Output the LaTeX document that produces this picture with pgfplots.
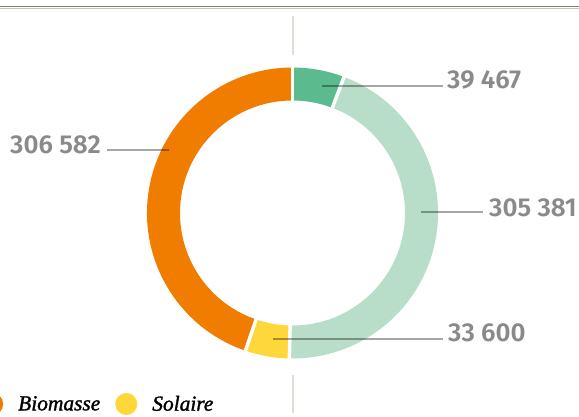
\documentclass[border=0pt]{standalone}
\usepackage{fontspec}
\usepackage{pgfplots}
\usepackage{pgfplotstable}
\pgfplotsset{compat=1.18}
\usetikzlibrary{calc}
\setmainfont{Liberation Serif}
\newfontfamily\labfont{Fira Sans SemiBold}
\newfontfamily\legfont{Liberation Serif}[FakeBold=1.4]
\definecolor{segA}{HTML}{5BBB8E}
\definecolor{segB}{HTML}{B8DEC9}
\definecolor{segC}{HTML}{FED73A}
\definecolor{segD}{HTML}{F07C00}
\definecolor{labgray}{HTML}{8A8A8A}
\definecolor{rulecol}{HTML}{A39D8B}
\definecolor{vline}{HTML}{E2DED5}

% donut values, clockwise from the top
\pgfplotstableread{
value col
39467 segA
305381 segB
33600 segC
306582 segD
}\piedata

\pgfplotsset{
  canvas/.style={width=579bp, height=417bp, scale only axis,
    xmin=0, xmax=579, ymin=0, ymax=417, y dir=reverse,
    hide axis, clip=false, at={(0,0)}, anchor=south west},
  dot legend/.style={legend image code/.code={\fill[##1] (0bp,0bp) circle (11bp);}},
}

\begin{document}
\begin{tikzpicture}
\path[use as bounding box, clip] (0,0) rectangle (579bp,417bp);
\begin{axis}[canvas,
    legend style={at={(axis cs:-19,404)}, anchor=west, draw=none, fill=none,
      legend columns=-1, inner sep=0pt, column sep=15bp,
      nodes={inner sep=0pt}, font=\legfont\itshape\fontsize{21.5}{24}\selectfont},
  ]
  \addplot[forget plot, rulecol!80!black, line width=1.3bp] coordinates {(0,6.8) (579,6.8)};
  \addplot[forget plot, rulecol!60, line width=1.3bp] coordinates {(0,8.8) (579,8.8)};
  \addplot[forget plot, vline, line width=2.5bp] coordinates {(293,16) (293,55)};
  \addplot[forget plot, vline, line width=2.5bp] coordinates {(293,375) (293,413)};
  \coordinate (C) at (axis cs:292.5,213);
  \addlegendimage{dot legend, fill=segD, draw=none}
  \addlegendentry{Biomasse}
  \addlegendimage{dot legend, fill=segC, draw=none}
  \addlegendentry{Solaire}
\end{axis}

% sectors from the table values
\def\Ro{145.5bp}
\def\Ri{112.5bp}
\pgfplotstablegetrowsof{\piedata}
\pgfmathtruncatemacro{\nrows}{\pgfplotsretval-1}
\xdef\total{0}
\foreach \i in {0,...,\nrows}{
  \pgfplotstablegetelem{\i}{value}\of\piedata
  \xdef\total{\fpeval{\total+\pgfplotsretval}}
}
\xdef\cum{0}
\foreach \i in {0,...,\nrows}{
  \pgfplotstablegetelem{\i}{value}\of\piedata \let\v\pgfplotsretval
  \pgfplotstablegetelem{\i}{col}\of\piedata \let\c\pgfplotsretval
  \edef\a{\fpeval{90-360*\cum/\total}}
  \edef\b{\fpeval{90-360*(\cum+\v)/\total}}
  \fill[\c] ($(C)+(\a:\Ro)$) arc[start angle=\a, end angle=\b, radius=\Ro]
    -- ($(C)+(\b:\Ri)$) arc[start angle=\b, end angle=\a, radius=\Ri] -- cycle;
  \xdef\cum{\fpeval{\cum+\v}}
}
\xdef\cum{0}
\foreach \i in {0,...,\nrows}{
  \pgfplotstablegetelem{\i}{value}\of\piedata \let\v\pgfplotsretval
  \edef\a{\fpeval{90-360*\cum/\total}}
  \draw[white, line width=3.5bp] ($(C)+(\a:105bp)$) -- ($(C)+(\a:152bp)$);
  \xdef\cum{\fpeval{\cum+\v}}
}

\begin{axis}[canvas]
  \addplot[black, opacity=0.35, line width=1.2bp] coordinates {(322,86) (443,86)};
  \addplot[black, opacity=0.35, line width=1.2bp] coordinates {(421,212) (483,212)};
  \addplot[black, opacity=0.35, line width=1.2bp] coordinates {(273,339) (443,339)};
  \addplot[black, opacity=0.35, line width=1.2bp] coordinates {(107,150) (169,150)};
  \begin{scope}[every node/.style={text=labgray, inner sep=0pt,
      font=\labfont\fontsize{26}{30}\selectfont}]
    \node[anchor=base west] at (axis cs:447,89) {39 467};
    \node[anchor=base west] at (axis cs:489,216.5) {305 381};
    \node[anchor=base west] at (axis cs:448,341) {33 600};
    \node[anchor=base east] at (axis cs:101,153) {306 582};
  \end{scope}
\end{axis}
\end{tikzpicture}
\end{document}
